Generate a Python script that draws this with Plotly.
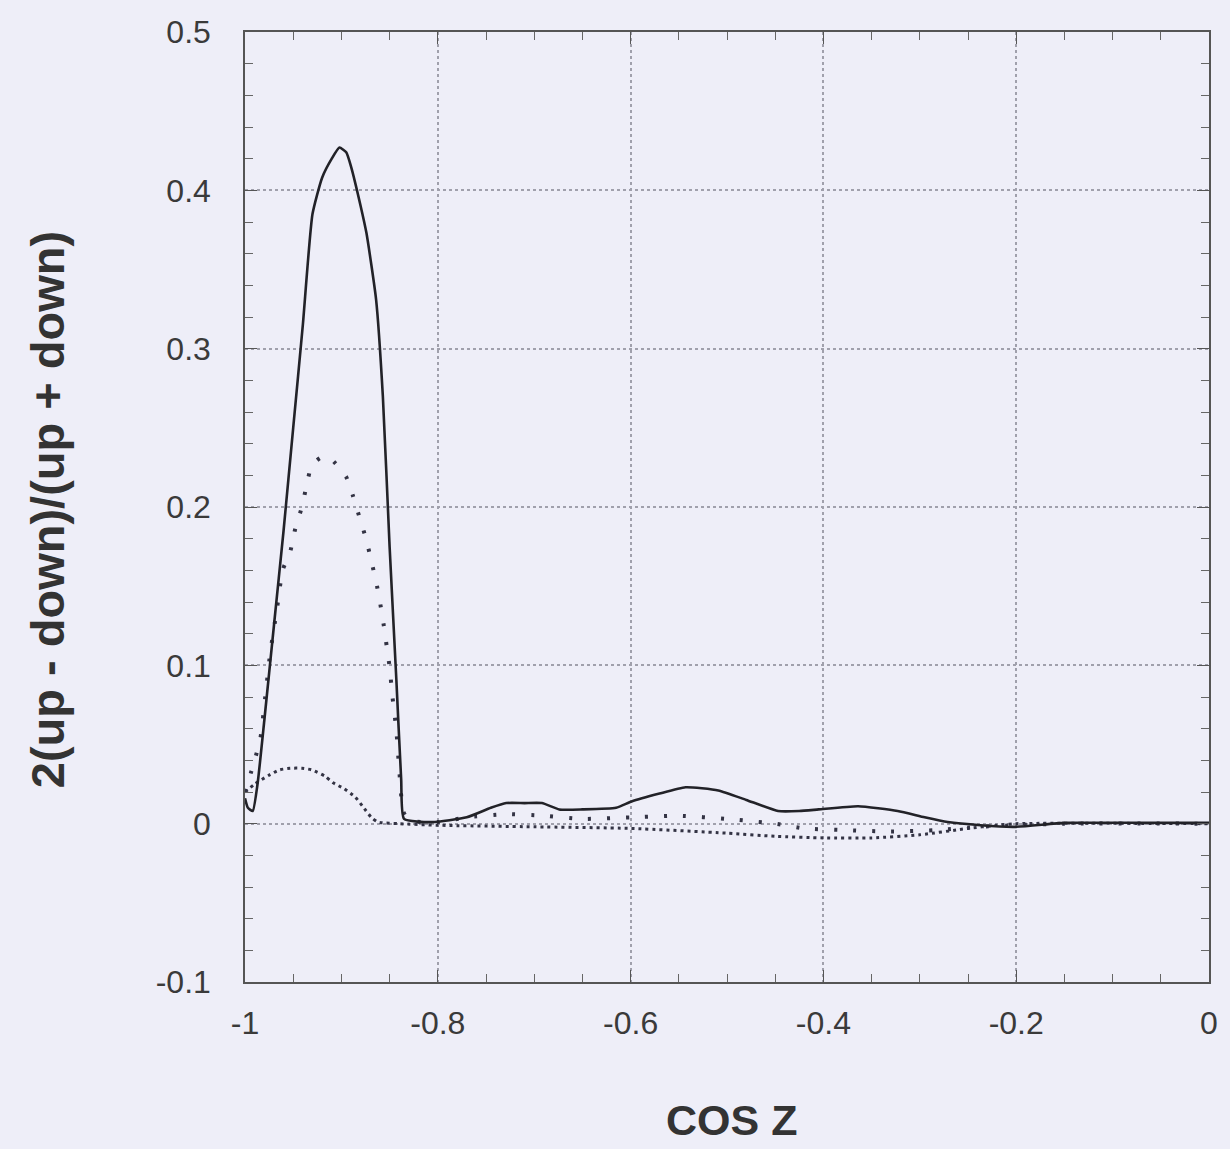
import plotly.graph_objects as go

# ---- data ----
solid_x = [-1.0, -0.997, -0.992, -0.987, -0.98, -0.97, -0.96, -0.95, -0.94, -0.93, -0.92,
           -0.91, -0.902, -0.895, -0.89, -0.88, -0.874, -0.864, -0.857, -0.85, -0.843, -0.838,
           -0.835, -0.806, -0.77, -0.745, -0.729, -0.71, -0.692, -0.674, -0.65, -0.615, -0.599,
           -0.57, -0.543, -0.509, -0.48, -0.447, -0.425, -0.405, -0.364, -0.323, -0.295, -0.271,
           -0.237, -0.202, -0.15, -0.1, -0.05, 0.0]
solid_y = [0.016, 0.010, 0.008, 0.025, 0.065, 0.125, 0.185, 0.25, 0.315, 0.385, 0.408,
           0.42, 0.427, 0.424, 0.415, 0.39, 0.373, 0.331, 0.27, 0.175, 0.091, 0.028,
           0.003, 0.001, 0.004, 0.010, 0.013, 0.013, 0.013, 0.009, 0.009, 0.010, 0.014,
           0.019, 0.023, 0.021, 0.015, 0.008, 0.008, 0.009, 0.011, 0.008, 0.004, 0.001,
           -0.001, -0.002, 0.0005, 0.0006, 0.0005, 0.0005]

sparse_x = [-1.0, -0.99, -0.984, -0.979, -0.974, -0.967, -0.961, -0.953, -0.948, -0.941,
            -0.936, -0.931, -0.922, -0.912, -0.895, -0.888, -0.881, -0.874, -0.869, -0.864,
            -0.86, -0.856, -0.853, -0.85, -0.847, -0.843, -0.84, -0.836, -0.83, -0.8, -0.77,
            -0.73, -0.69, -0.65, -0.6, -0.55, -0.5, -0.45, -0.42, -0.38, -0.33, -0.28, -0.24,
            -0.2, -0.15, 0.0]
sparse_y = [0.02, 0.04, 0.054, 0.08, 0.107, 0.135, 0.16, 0.172, 0.186, 0.2,
            0.214, 0.226, 0.231, 0.231, 0.219, 0.207, 0.193, 0.179, 0.166, 0.153,
            0.14, 0.125, 0.112, 0.099, 0.08, 0.059, 0.034, 0.008, 0.002, 0.001, 0.004,
            0.006, 0.005, 0.003, 0.004, 0.005, 0.003, 0.0, -0.003, -0.004, -0.005, -0.004, -0.002,
            -0.001, 0.0, 0.0]

dense_x = [-1.0, -0.99, -0.974, -0.964, -0.953, -0.941, -0.931, -0.917, -0.909, -0.897,
           -0.886, -0.878, -0.869, -0.862, -0.84, -0.8, -0.7, -0.6, -0.5, -0.45, -0.4,
           -0.35, -0.3, -0.25, -0.22, -0.2, 0.0]
dense_y = [0.02, 0.025, 0.031, 0.034, 0.035, 0.035, 0.034, 0.030, 0.026, 0.022,
           0.017, 0.011, 0.004, 0.001, 0.0, -0.001, -0.002, -0.003, -0.006, -0.008, -0.009,
           -0.009, -0.007, -0.003, -0.001, 0.0, 0.0]

x_tickvals = [-1, -0.8, -0.6, -0.4, -0.2, 0]
x_ticktext = ["-1", "-0.8", "-0.6", "-0.4", "-0.2", "0"]
y_tickvals = [-0.1, 0, 0.1, 0.2, 0.3, 0.4, 0.5]
y_ticktext = ["-0.1", "0", "0.1", "0.2", "0.3", "0.4", "0.5"]

x_title = "COS Z"
y_title = "2(up - down)/(up + down)"

bg = "#eeeef8"
fig = go.Figure()
fig.add_trace(go.Scatter(x=dense_x, y=dense_y, mode="lines",
                         line=dict(color="#333344", width=3, dash="3px,4px",
                                   shape="spline", smoothing=0.6),
                         showlegend=False))
fig.add_trace(go.Scatter(x=sparse_x, y=sparse_y, mode="lines",
                         line=dict(color="#333344", width=4, dash="3px,16px",
                                   shape="spline", smoothing=0.5),
                         showlegend=False))
fig.add_trace(go.Scatter(x=solid_x, y=solid_y, mode="lines",
                         line=dict(color="#222228", width=2.6, shape="spline", smoothing=0.5),
                         showlegend=False))

axis_common = dict(
    showline=True, linecolor="#555", linewidth=1.5, mirror="ticks",
    ticks="inside", ticklen=12, tickcolor="#555", tickwidth=1.2,
    showgrid=True, gridcolor="#a0a0ac", griddash="dot", gridwidth=1.5,
    zeroline=False,
    tickfont=dict(family="Liberation Sans, Arial, sans-serif", size=32, color="#3a3a3a"),
)

fig.update_xaxes(range=[-1, 0], tickvals=x_tickvals, ticktext=x_ticktext,
                 minor=dict(dtick=0.05, ticks="inside", ticklen=8, tickcolor="#666",
                            tickwidth=1.2, showgrid=False),
                 ticklabelstandoff=12, **axis_common)
fig.update_yaxes(range=[-0.1, 0.5], tickvals=y_tickvals, ticktext=y_ticktext,
                 minor=dict(dtick=0.02, ticks="inside", ticklen=8, tickcolor="#666",
                            tickwidth=1.2, showgrid=False),
                 ticklabelstandoff=26, **axis_common)

fig.add_annotation(text="<b>" + x_title + "</b>", xref="paper", yref="paper", x=0.505, y=-0.145,
                   showarrow=False, xanchor="center", yanchor="middle",
                   font=dict(family="Liberation Sans, Arial, sans-serif", size=43, color="#333"))
fig.add_annotation(text="<b>" + y_title + "</b>", xref="paper", yref="paper", x=-0.205, y=0.497,
                   showarrow=False, xanchor="center", yanchor="middle", textangle=-90,
                   font=dict(family="Liberation Sans, Arial, sans-serif", size=47, color="#333"))

fig.update_layout(width=1230, height=1149, paper_bgcolor=bg, plot_bgcolor=bg,
                  margin=dict(l=245, r=18, t=32, b=167))

fig.write_html("out.html")
